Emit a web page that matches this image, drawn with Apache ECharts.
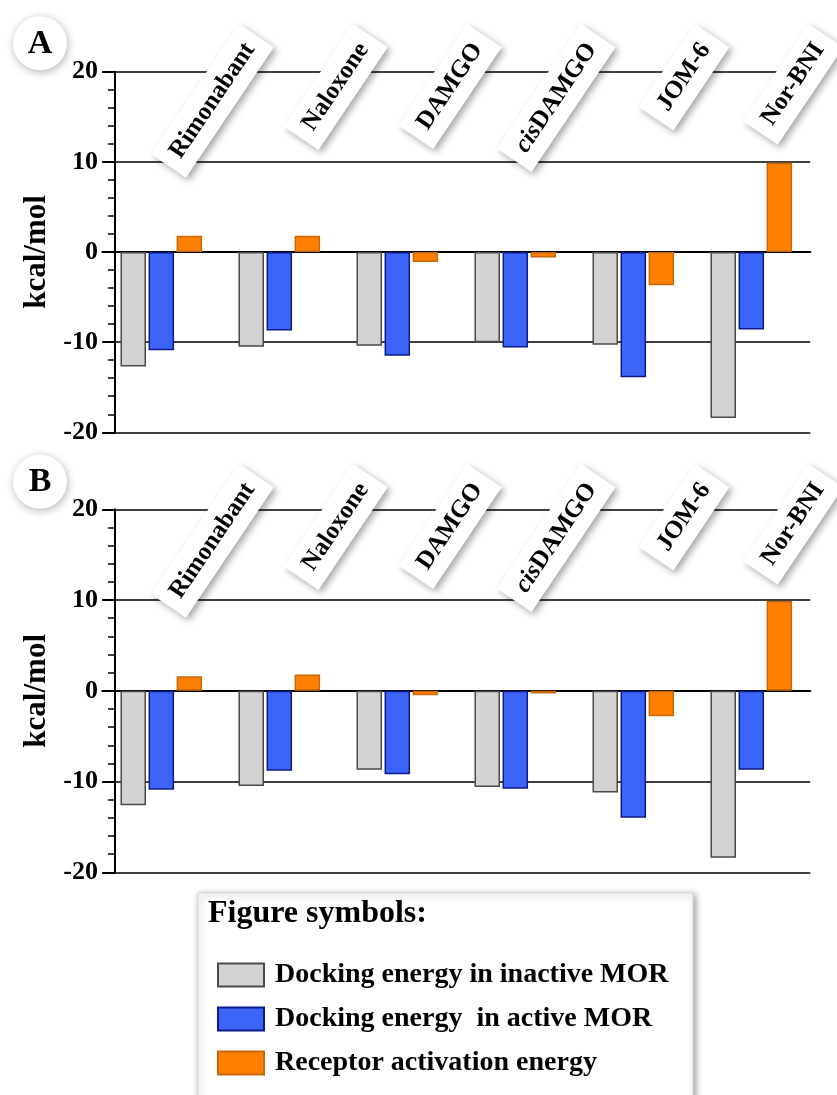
<!DOCTYPE html>
<html>
<head>
<meta charset="utf-8">
<script src="https://cdn.jsdelivr.net/npm/echarts@6/dist/echarts.min.js"></script>
<style>html,body{margin:0;padding:0;background:#fff;}#c{width:837px;height:1095px;}</style>
</head>
<body>
<div id="c"></div>
<script>
const categories = ['Rimonabant', 'Naloxone', 'DAMGO', 'cisDAMGO', 'JOM-6', 'Nor-BNI'];
const seriesNames = ['Docking energy in inactive MOR', 'Docking energy  in active MOR', 'Receptor activation energy'];
const panelA_inactive = [-12.7, -10.5, -10.4, -10.0, -10.3, -18.4];
const panelA_active = [-10.9, -8.7, -11.5, -10.6, -13.9, -8.6];
const panelA_activation = [1.8, 1.8, -1.1, -0.6, -3.7, 9.9];
const panelB_inactive = [-12.6, -10.5, -8.7, -10.6, -11.2, -18.4];
const panelB_active = [-10.9, -8.8, -9.2, -10.8, -14.0, -8.7];
const panelB_activation = [1.6, 1.8, -0.5, -0.3, -2.8, 9.9];
const yMin = -20, yMax = 20, yInterval = 10;
const panelLetters = ['A', 'B'];
const yAxisName = 'kcal/mol';
const legendTitle = 'Figure symbols:';

const FONT = '"Liberation Serif", "Times New Roman", serif';
const fills = ['#d3d3d3', '#3c64f7', '#ff8000'];
const borders = ['#4a4a4a', '#0d1a8c', '#c8680a'];

const chart = echarts.init(document.getElementById('c'));

const barGrids = [
  { left: 102.3, top: 71.7, width: 708, height: 360.6, outerBoundsMode: 'none' },
  { left: 102.3, top: 509.3, width: 708, height: 363, outerBoundsMode: 'none' }
];
const labelGrids = [
  { left: 256.5, top: 0, width: 569.5, height: 35.5, outerBoundsMode: 'none' },
  { left: 256.5, top: 440, width: 569.5, height: 35.5, outerBoundsMode: 'none' }
];
const grids = [barGrids[0], labelGrids[0], barGrids[1], labelGrids[1]];

function barXAxis(gi) {
  return {
    gridIndex: gi, type: 'category', data: categories,
    axisLine: { show: true, onZero: true, lineStyle: { color: '#000', width: 2 } },
    axisTick: { show: false }, axisLabel: { show: false }, splitLine: { show: false }
  };
}
function labelXAxis(gi) {
  return {
    gridIndex: gi, type: 'category', data: categories, position: 'bottom', z: 5,
    boundaryGap: false,
    axisLine: { show: false }, axisTick: { show: false }, splitLine: { show: false },
    axisLabel: {
      show: true, interval: 0, rotate: 56, margin: 0,
      fontFamily: FONT, fontWeight: 'bold', fontSize: 25, color: '#000', lineHeight: 28,
      backgroundColor: '#fff', padding: [7, 12, 7, 12],
      shadowColor: 'rgba(0,0,0,0.35)', shadowBlur: 7, shadowOffsetX: 3, shadowOffsetY: 3,
      formatter: function (v) {
        if (v.indexOf('cis') === 0) return '{i|cis}{b|' + v.slice(3) + '}';
        return v;
      },
      rich: {
        i: { fontFamily: FONT, fontWeight: 'bold', fontStyle: 'italic', fontSize: 25, color: '#000', lineHeight: 28 },
        b: { fontFamily: FONT, fontWeight: 'bold', fontSize: 25, color: '#000', lineHeight: 28 }
      }
    }
  };
}
function barYAxis(gi) {
  return {
    gridIndex: gi, type: 'value', min: yMin, max: yMax, interval: yInterval, offset: -12.7,
    name: yAxisName, nameLocation: 'middle', nameGap: 60, nameRotate: 90,
    nameTextStyle: { fontFamily: FONT, fontWeight: 'bold', fontSize: 31, color: '#000' },
    axisLine: { show: true, lineStyle: { color: '#000', width: 2 } },
    axisTick: { show: true, length: 12.7, lineStyle: { color: '#000', width: 2 } },
    minorTick: { show: true, splitNumber: 5, length: 7, lineStyle: { color: '#000', width: 1.5 } },
    splitLine: { show: true, lineStyle: { color: '#000', width: 1.5 } },
    minorSplitLine: { show: false },
    axisLabel: { fontFamily: FONT, fontWeight: 'bold', fontSize: 26, color: '#000', margin: 17 }
  };
}
function labelYAxis(gi) {
  return { gridIndex: gi, type: 'value', min: 0, max: 1, show: false };
}

const panelData = [
  [panelA_inactive, panelA_active, panelA_activation],
  [panelB_inactive, panelB_active, panelB_activation]
];
const series = [];
panelData.forEach(function (sets, p) {
  const axisIdx = p * 2;
  sets.forEach(function (arr, k) {
    series.push({
      name: seriesNames[k], type: 'bar', xAxisIndex: axisIdx, yAxisIndex: axisIdx,
      data: arr, barWidth: 25.5, barGap: '10%',
      itemStyle: { color: fills[k], borderColor: borders[k], borderWidth: 1.5 },
      emphasis: { disabled: true }, animation: false
    });
  });
});

const graphics = [];
[43.3, 481.7].forEach(function (cy, i) {
  graphics.push({
    type: 'circle', shape: { cx: 40, cy: cy, r: 27 }, z: 10,
    style: { fill: '#fff', shadowBlur: 8, shadowColor: 'rgba(0,0,0,0.3)', shadowOffsetX: 1, shadowOffsetY: 2 }
  });
  graphics.push({
    type: 'text', x: 40, y: cy + 1, z: 11,
    style: { text: panelLetters[i], fontFamily: FONT, fontWeight: 'bold', fontSize: 34, fill: '#000', align: 'center', verticalAlign: 'middle' }
  });
});
graphics.push({
  type: 'rect', shape: { x: 198, y: 893, width: 495, height: 240 }, z: 1,
  style: { fill: '#fff', stroke: '#d8d8d8', lineWidth: 1, shadowBlur: 7, shadowColor: 'rgba(0,0,0,0.4)', shadowOffsetX: 2, shadowOffsetY: 2 }
});

chart.setOption({
  animation: false,
  backgroundColor: '#fff',
  grid: grids,
  xAxis: [barXAxis(0), labelXAxis(1), barXAxis(2), labelXAxis(3)],
  yAxis: [barYAxis(0), labelYAxis(1), barYAxis(2), labelYAxis(3)],
  series: series,
  title: {
    text: legendTitle, left: 208, top: 898, padding: 0, z: 6,
    textStyle: { fontFamily: FONT, fontWeight: 'bold', fontSize: 32, color: '#000' }
  },
  legend: {
    data: seriesNames, orient: 'vertical', left: 217, top: 961, padding: 0, z: 6,
    itemWidth: 46, itemHeight: 23, itemGap: 16, icon: 'rect', selectedMode: false,
    textStyle: { fontFamily: FONT, fontWeight: 'bold', fontSize: 28, color: '#000', padding: [0, 0, 0, 6] }
  },
  graphic: graphics
});
</script>
</body>
</html>
